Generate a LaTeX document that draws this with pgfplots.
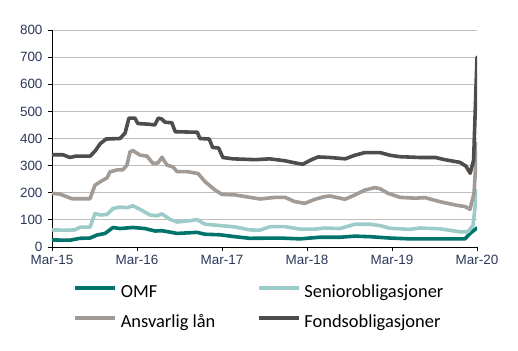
\documentclass[border=0pt]{standalone}
\usepackage{pgfplots}
\pgfplotsset{compat=1.18}
\usepackage{fontspec}
\setmainfont{Liberation Sans}
\newfontfamily\legfont{Carlito}
\definecolor{omf}{HTML}{00736A}
\definecolor{senior}{HTML}{9DCBC9}
\definecolor{ansv}{HTML}{A29A94}
\definecolor{fond}{HTML}{4D4D4D}
\definecolor{gridc}{HTML}{BEBEBE}
\definecolor{tickc}{HTML}{2C3759}
\begin{document}
\begin{tikzpicture}
\path[use as bounding box] (-52bp,-104bp) rectangle (466bp,247bp);
\begin{axis}[
  at={(0,0)}, anchor=origin,
  scale only axis, width=425bp, height=217bp,
  xmin=0, xmax=5, ymin=0, ymax=800,
  axis x line*=bottom, axis y line*=left,
  axis line style={black, line width=0.9pt},
  xtick={0,1,2,3,4,5},
  xticklabels={Mar-15,Mar-16,Mar-17,Mar-18,Mar-19,Mar-20},
  ytick={0,100,...,800},
  tick align=outside, major tick length=4bp,
  tick style={black, line width=0.9pt},
  ymajorgrids, grid style={gridc, line width=0.8pt},
  /pgf/number format/assume math mode=true,
  ticklabel style={font=\fontsize{13.5}{16}\selectfont, text=tickc},
  yticklabel style={xshift=-2bp},
  xticklabel style={yshift=-1bp},
  legend columns=2,
  legend style={draw=none, fill=none, at={(0,0)}, anchor=north west,
    xshift=21bp, yshift=-38bp, inner sep=0pt,
    nodes={inner sep=0pt, anchor=west, text height=12bp, text depth=4bp, font=\legfont\fontsize{18.5}{20}\selectfont},
    row sep=14bp, /tikz/every odd column/.style={column sep=4bp}},
  legend image code/.code={\draw[#1, line cap=butt] (0bp,5bp) -- (40bp,5bp);},
  every axis plot/.append style={line width=3.6bp, line join=round, line cap=round},
]
\addplot[omf] coordinates {
(0,26)(0.212,25)(0.329,32)(0.447,33)(0.529,44)(0.624,50)(0.718,72)(0.8,68)(0.953,72)(1.094,68)(1.212,59)(1.294,60)(1.388,55)(1.471,50)(1.706,54)(1.8,47)(1.976,45)(2.153,38)(2.329,32)(2.682,33)(2.918,30)(3.153,36)(3.388,36)(3.565,40)(3.741,38)(3.976,33)(4.212,30)(4.565,30)(4.859,30)(4.918,50)(5.0,70)};
\addlegendentry{\makebox[136bp][l]{OMF}}
\addplot[senior] coordinates {
(0,63)(0.176,62)(0.271,63)(0.329,73)(0.447,73)(0.506,124)(0.565,118)(0.647,120)(0.718,142)(0.8,147)(0.882,145)(0.953,152)(1.035,139)(1.153,118)(1.235,115)(1.294,122)(1.388,102)(1.471,92)(1.624,97)(1.706,101)(1.8,84)(1.976,79)(2.153,74)(2.329,63)(2.447,62)(2.565,75)(2.741,75)(2.918,66)(3.094,66)(3.212,70)(3.388,68)(3.565,84)(3.741,84)(3.859,79)(3.976,69)(4.212,65)(4.329,70)(4.565,67)(4.8,56)(4.894,56)(4.953,80)(5.0,210)};
\addlegendentry{Seniorobligasjoner}
\addplot[ansv] coordinates {
(0,198)(0.094,195)(0.176,185)(0.235,178)(0.447,178)(0.506,228)(0.565,240)(0.647,255)(0.682,277)(0.765,284)(0.835,285)(0.882,302)(0.918,351)(0.953,355)(1.035,339)(1.118,335)(1.188,308)(1.247,310)(1.294,331)(1.353,302)(1.424,295)(1.471,278)(1.588,278)(1.659,274)(1.718,271)(1.8,241)(1.918,210)(2.0,194)(2.153,192)(2.329,183)(2.447,177)(2.624,183)(2.741,183)(2.859,167)(2.976,161)(3.094,176)(3.212,186)(3.271,188)(3.447,176)(3.565,192)(3.682,210)(3.8,219)(3.859,215)(3.953,198)(4.094,183)(4.271,180)(4.388,182)(4.565,167)(4.741,155)(4.859,149)(4.918,139)(4.965,198)(5.0,383)};
\addlegendentry{\makebox[136bp][l]{Ansvarlig lån}}
\addplot[fond] coordinates {
(0,340)(0.13,340)(0.21,330)(0.28,335)(0.45,335)(0.51,355)(0.565,380)(0.635,398)(0.8,400)(0.86,420)(0.905,475)(0.976,475)(1.01,455)(1.13,453)(1.21,450)(1.25,475)(1.29,472)(1.33,460)(1.41,458)(1.45,425)(1.71,423)(1.74,400)(1.85,398)(1.89,367)(1.96,365)(2.01,330)(2.13,325)(2.39,322)(2.56,325)(2.74,318)(2.86,310)(2.95,305)(3.04,320)(3.13,332)(3.27,330)(3.45,325)(3.56,338)(3.68,348)(3.86,348)(3.98,338)(4.09,333)(4.33,330)(4.51,330)(4.62,322)(4.8,312)(4.87,298)(4.92,272)(4.96,320)(5.0,700)};
\addlegendentry{Fondsobligasjoner}
\end{axis}
\end{tikzpicture}
\end{document}
